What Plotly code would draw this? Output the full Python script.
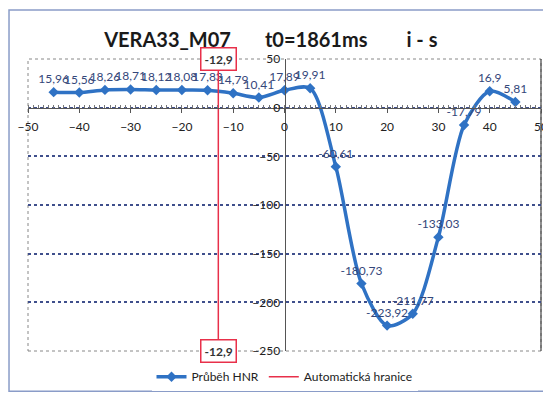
import plotly.graph_objects as go

# data
x_vals = [-45, -40, -35, -30, -25, -20, -15, -10, -5, 0, 5, 10, 15, 20, 25, 30, 35, 40, 45]
hnr = [15.96, 15.56, 18.26, 18.71, 18.12, 18.08, 17.83, 14.79, 10.41, 17.89, 19.91,
       -60.61, -180.73, -223.92, -211.77, -133.03, -17.79, 16.9, 5.81]
boundary = -12.9
y_min, y_max = -250, 50
x_min, x_max = -50, 50

labels = [f"{v:g}".replace(".", ",") for v in hnr]

fig = go.Figure()

fig.add_trace(go.Scatter(
    x=x_vals, y=hnr, name="Průběh HNR",
    mode="lines+markers+text",
    line=dict(color="#2f72c4", width=3.5, shape="spline", smoothing=0.8),
    marker=dict(symbol="diamond", size=8, color="#2f72c4"),
    text=labels, textposition="top center",
    textfont=dict(family="Lato", size=12, color="#34477a"),
))

fig.add_trace(go.Scatter(
    x=[boundary, boundary], y=[y_max, y_min], name="Automatická hranice",
    mode="lines", line=dict(color="#e8304a", width=1.5),
))

boundary_txt = f"{boundary:g}".replace(".", ",")
for yv in (y_max, y_min):
    fig.add_annotation(x=boundary, y=yv, text="<b>" + boundary_txt + "</b>", showarrow=False,
                       bgcolor="white", bordercolor="#e8304a", borderwidth=1.5, borderpad=3,
                       font=dict(family="Lato", size=12, color="#333"))

# frame around the whole chart and dotted plot area
fig.add_shape(type="rect", xref="paper", yref="paper", x0=-0.037, x1=1.0136, y0=-0.138, y1=1.168,
              line=dict(color="#8a9cc8", width=1.5), layer="below")
fig.add_shape(type="rect", xref="paper", yref="paper", x0=0, x1=1, y0=0, y1=1,
              line=dict(color="#888", width=1, dash="dot"), layer="below")
fig.add_shape(type="line", xref="paper", yref="paper", x0=1, x1=1, y0=0, y1=1,
              line=dict(color="#444", width=1.2), layer="below")

title = "VERA33_M07" + "\u00a0" * 7 + "t0=1861ms" + "\u00a0" * 8 + "i - s"

fig.update_layout(
    width=543, height=393,
    margin=dict(l=20, r=10, t=51, b=45),
    paper_bgcolor="white", plot_bgcolor="white",
    title=dict(text="<b>" + title + "</b>", x=0.484, xanchor="center", y=0.918, yanchor="middle",
               font=dict(family="Lato", size=20, color="#1a1a1a")),
    font=dict(family="Lato", color="#333"),
    showlegend=True,
    legend=dict(orientation="h", x=0.5, xanchor="center", y=-0.088, yanchor="middle",
                font=dict(family="Lato", size=12, color="#222"), itemwidth=30),
    xaxis=dict(range=[x_min, x_max], dtick=10, anchor="free", automargin=False,
               position=(0 - y_min) / (y_max - y_min),
               showgrid=False, zeroline=False, showline=True, linecolor="#555", linewidth=1,
               ticks="outside", ticklen=4, tickcolor="#555",
               minor=dict(dtick=1, ticks="inside", ticklen=3, tickcolor="#777"),
               tickfont=dict(family="Lato", size=12, color="#222"), ticklabelstandoff=4),
    yaxis=dict(range=[y_min, y_max], dtick=50, anchor="free", automargin=False,
               position=(0 - x_min) / (x_max - x_min),
               showgrid=True, gridcolor="#3f4f8c", griddash="dot", gridwidth=1.5,
               zeroline=False, showline=True, linecolor="#555", linewidth=1,
               ticks="", tickfont=dict(family="Lato", size=12, color="#222"),
               ticklabelstandoff=2),
)

fig.write_html("out.html")
